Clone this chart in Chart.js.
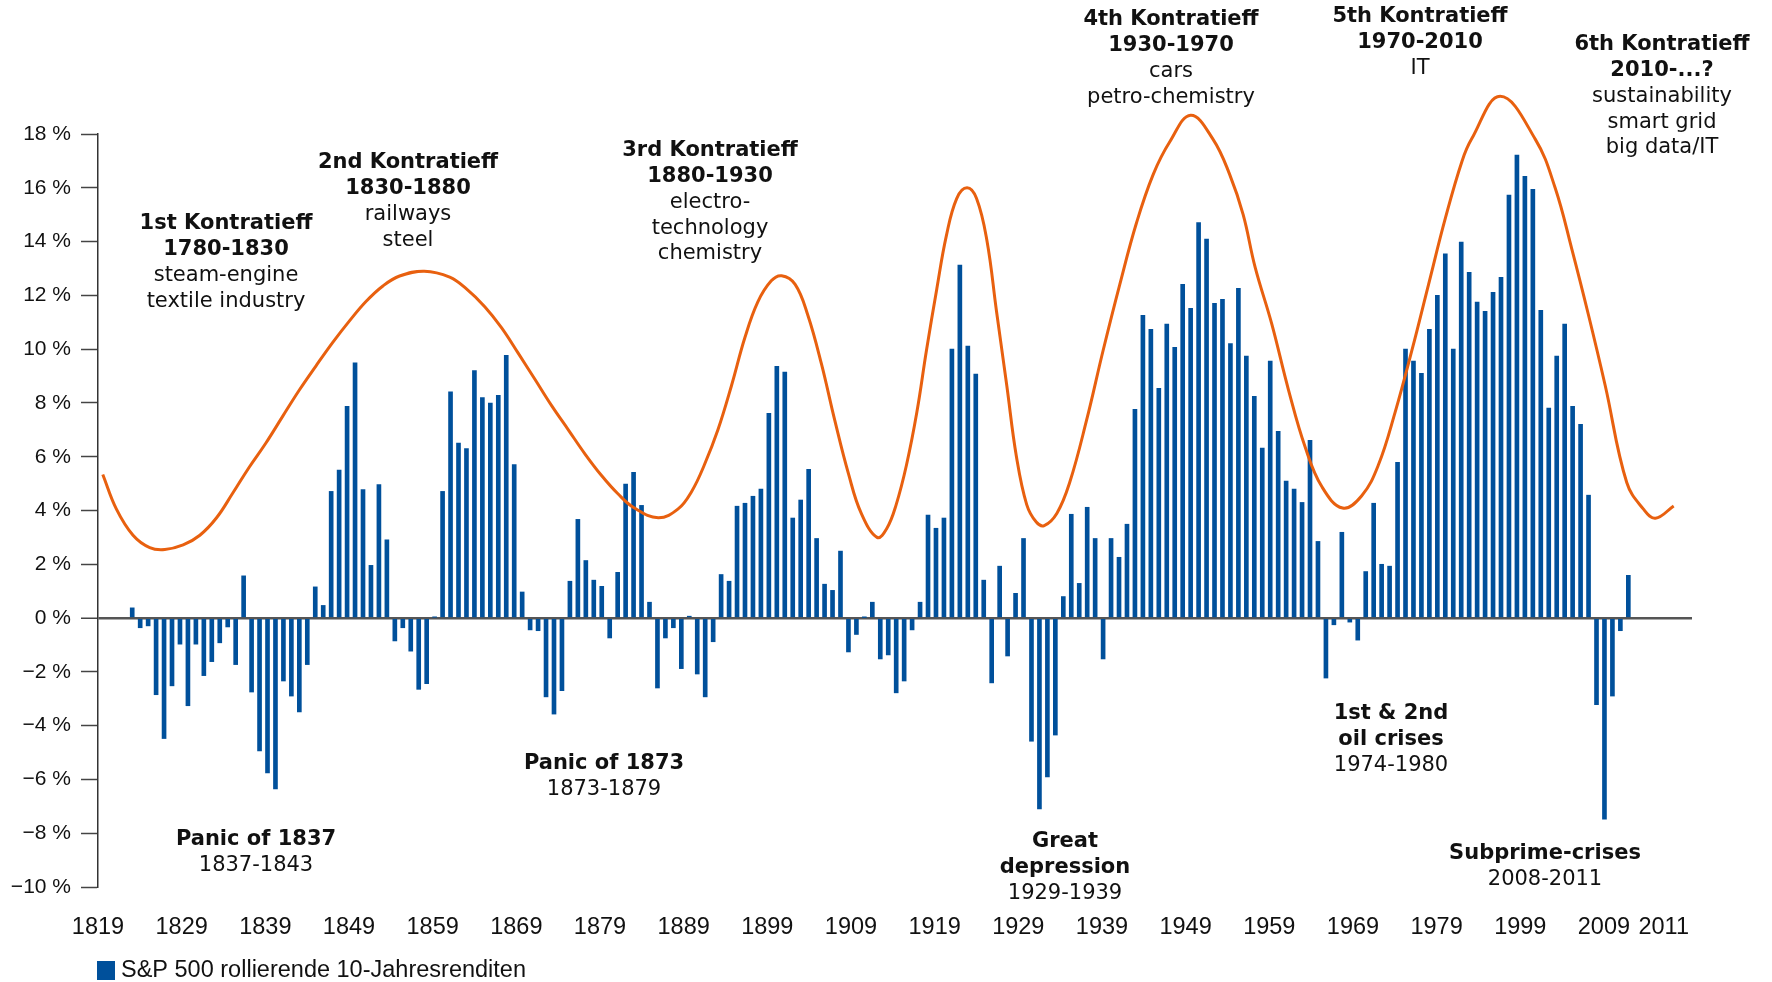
<!DOCTYPE html>
<html>
<head>
<meta charset="utf-8">
<script src="https://cdn.jsdelivr.net/npm/chart.js@4.4.0/dist/chart.umd.min.js"></script>
<style>
    html, body { margin: 0; padding: 0; background: #fff; }
</style>
</head>
<body>
<canvas id="kondratieffChart" width="1772" height="982"></canvas>
<script>
// S&P 500 rollierende 10-Jahresrenditen, ein Balken pro Jahr ab 1823
const ersterJahrgang = 1823;
const renditen = [
    0.38, -0.36, -0.29, -2.85, -4.48, -2.52, -0.97, -3.26, -0.97, -2.14,
    -1.62, -0.92, -0.33, -1.73, 1.57, -2.75, -4.94, -5.76, -6.35, -2.34,
    -2.90, -3.49, -1.73, 1.16, 0.47, 4.71, 5.50, 7.87, 9.49, 4.78,
    1.96, 4.96, 2.91, -0.85, -0.36, -1.23, -2.65, -2.44, 0.03, 4.71,
    8.41, 6.51, 6.30, 9.20, 8.20, 7.99, 8.28, 9.77, 5.71, 0.97,
    -0.44, -0.47, -2.93, -3.57, -2.70, 1.37, 3.67, 2.14, 1.41, 1.18,
    -0.74, 1.70, 4.98, 5.42, 4.19, 0.59, -2.60, -0.74, -0.36, -1.88,
    0.07, -2.08, -2.93, -0.88, 1.62, 1.37, 4.16, 4.27, 4.53, 4.80,
    7.61, 9.36, 9.15, 3.72, 4.39, 5.53, 2.96, 1.26, 1.03, 2.49,
    -1.26, -0.61, 0.02, 0.59, -1.52, -1.37, -2.78, -2.34, -0.44, 0.59,
    3.83, 3.34, 3.72, 10.0, 13.13, 10.11, 9.07, 1.41, -2.41, 1.93,
    -1.41, 0.92, 2.96, -4.58, -7.10, -5.91, -4.35, 0.80, 3.86, 1.29,
    4.12, 2.96, -1.52, 2.96, 2.26, 3.49, 7.76, 11.26, 10.74, 8.54,
    10.93, 10.07, 12.41, 11.52, 14.71, 14.09, 11.70, 11.85, 10.21, 12.26,
    9.74, 8.25, 6.32, 9.56, 6.94, 5.09, 4.80, 4.30, 6.61, 2.85,
    -2.23, -0.25, 3.19, -0.15, -0.82, 1.73, 4.27, 2.00, 1.93, 5.79,
    10.0, 9.56, 9.10, 10.74, 12.0, 13.54, 10.0, 13.98, 12.86, 11.75,
    11.41, 12.11, 12.67, 15.73, 17.22, 16.43, 15.94, 11.44, 7.81, 9.74,
    10.93, 7.87, 7.20, 4.57, -3.22, -7.48, -2.90, -0.47, 1.59
];

// Kondratieff-Welle (orange Linie)
const welleJahre = [
    1819.3, 1821.0, 1823.1, 1825.2, 1827.1, 1829.4, 1831.5, 1833.6, 1835.6, 1837.7,
    1839.8, 1841.9, 1844.0, 1846.1, 1848.2, 1850.3, 1852.4, 1854.5, 1856.6, 1859.7,
    1862.9, 1865.0, 1867.3, 1869.4, 1871.5, 1873.6, 1875.7, 1877.8, 1879.9, 1882.0,
    1884.0, 1886.1, 1889.1, 1891.6, 1893.3, 1894.9, 1896.6, 1898.3, 1900.0, 1901.6,
    1903.3, 1904.6, 1906.3, 1907.9, 1909.6, 1911.3, 1913.0, 1914.6, 1916.6, 1917.8,
    1919.0, 1920.3, 1921.6, 1922.8, 1924.1, 1925.3, 1926.6, 1927.9, 1929.1, 1930.4,
    1931.6, 1932.9, 1934.1, 1935.4, 1936.6, 1937.6, 1939.2, 1940.8, 1942.9, 1945.0,
    1947.1, 1949.2, 1951.3, 1953.4, 1956.0, 1958.8, 1960.9, 1962.6, 1964.1, 1966.2,
    1968.3, 1970.4, 1972.5, 1975.1, 1977.5, 1979.6, 1981.7, 1983.8, 1985.9, 1988.0,
    1990.1, 1991.3, 1994.9, 1999.3, 2001.8, 2003.9, 2006.0, 2008.1,
    2010.8, 2012.9, 2014.4, 2016.7
];
const welleWerte = [
    5.34, 4.06, 3.08, 2.62, 2.55, 2.72, 3.08, 3.73, 4.63, 5.61,
    6.51, 7.50, 8.48, 9.38, 10.25, 11.05, 11.78, 12.35, 12.72, 12.90,
    12.68, 12.24, 11.58, 10.80, 9.85, 8.88, 7.90, 7.00, 6.10, 5.29,
    4.63, 4.09, 3.73, 4.06, 4.71, 5.70, 7.00, 8.64, 10.44, 11.75,
    12.54, 12.73, 12.41, 11.26, 9.46, 7.33, 5.37, 3.90, 3.00, 3.32,
    4.22, 5.70, 7.66, 9.95, 12.24, 14.21, 15.60, 16.00, 15.60, 14.04,
    11.42, 8.64, 6.02, 4.22, 3.57, 3.44, 3.90, 5.04, 7.33, 9.95,
    12.41, 14.70, 16.50, 17.72, 18.70, 17.81, 16.50, 15.00, 13.05, 10.93,
    8.48, 6.35, 4.88, 4.09, 4.55, 5.70, 7.66, 9.95, 12.41, 14.86,
    16.99, 17.81, 19.40, 17.81, 16.00, 13.72, 11.26, 8.64,
    5.04, 4.05, 3.71, 4.17
];

// Beschriftung der x-Achse (wie im Original, 1989 fehlt)
const xTickLabels = ['1819', '1829', '1839', '1849', '1859', '1869', '1879', '1889', '1899', '1909',
    '1919', '1929', '1939', '1949', '1959', '1969', '1979', '1999', '2009', '2011'];

const serienName = 'S&P 500 rollierende 10-Jahresrenditen';

// Texte im Diagramm: [Text, fett?]
const notizen = [
    { x: 226, y: 224, zeilen: [['1st Kontratieff', true], ['1780-1830', true], ['steam-engine', false], ['textile industry', false]] },
    { x: 408, y: 163, zeilen: [['2nd Kontratieff', true], ['1830-1880', true], ['railways', false], ['steel', false]] },
    { x: 710, y: 151, zeilen: [['3rd Kontratieff', true], ['1880-1930', true], ['electro-', false], ['technology', false], ['chemistry', false]] },
    { x: 1171, y: 20, zeilen: [['4th Kontratieff', true], ['1930-1970', true], ['cars', false], ['petro-chemistry', false]] },
    { x: 1420, y: 17, zeilen: [['5th Kontratieff', true], ['1970-2010', true], ['IT', false]] },
    { x: 1662, y: 45, zeilen: [['6th Kontratieff', true], ['2010-...?', true], ['sustainability', false], ['smart grid', false], ['big data/IT', false]] },
    { x: 256, y: 840, zeilen: [['Panic of 1837', true], ['1837-1843', false]] },
    { x: 604, y: 764, zeilen: [['Panic of 1873', true], ['1873-1879', false]] },
    { x: 1065, y: 842, zeilen: [['Great', true], ['depression', true], ['1929-1939', false]] },
    { x: 1391, y: 714, zeilen: [['1st & 2nd', true], ['oil crises', true], ['1974-1980', false]] },
    { x: 1545, y: 854, zeilen: [['Subprime-crises', true], ['2008-2011', false]] }
];

const blau = '#00509b';
const orange = '#e8600f';
const schmal = '"Liberation Sans Narrow", "Liberation Sans", Arial, sans-serif';

// Texte und Legende selbst zeichnen
const beschriftungPlugin = {
    id: 'beschriftung',
    afterDraw(chart) {
        const ctx = chart.ctx;
        ctx.save();
        ctx.textAlign = 'center';
        ctx.textBaseline = 'middle';
        ctx.fillStyle = '#111';
        notizen.forEach(n => {
            n.zeilen.forEach(([text, fett], i) => {
                ctx.font = (fett ? 'bold ' : '') + '21px "DejaVu Sans", Verdana, sans-serif';
                ctx.fillText(text, n.x, n.y + i * 25.7);
            });
        });

        // Legende unten links
        ctx.fillStyle = blau;
        ctx.fillRect(97, 961, 18, 19);
        ctx.fillStyle = '#111';
        ctx.textAlign = 'left';
        ctx.font = '23.5px ' + schmal;
        ctx.fillText(serienName, 121, 971);
        ctx.restore();
    }
};

const ctx = document.getElementById('kondratieffChart').getContext('2d');

new Chart(ctx, {
    data: {
        datasets: [
            {
                type: 'line',
                label: 'Kontratieff',
                data: welleJahre.map((j, i) => ({ x: j, y: welleWerte[i] })),
                borderColor: orange,
                borderWidth: 3,
                pointRadius: 0,
                tension: 0.4,
                fill: false,
                clip: false,
                order: 0
            },
            {
                type: 'bar',
                label: serienName,
                data: renditen.map((v, i) => ({ x: ersterJahrgang + i, y: v })),
                backgroundColor: blau,
                barThickness: 4,
                grouped: false,
                order: 1
            }
        ]
    },
    options: {
        responsive: false,
        animation: false,
        layout: { padding: { top: 134, right: 80, bottom: 0, left: 0 } },
        plugins: {
            legend: { display: false },
            tooltip: { enabled: false }
        },
        scales: {
            x: {
                type: 'linear',
                min: 1818.7,
                max: 2019.0,
                offset: false,
                grid: { display: false, drawTicks: false },
                border: { display: false },
                afterBuildTicks: scale => {
                    // Beschriftung in gleichmäßigen Abständen wie im Original
                    const start = 1818.7, schritt = 10.513;
                    scale.ticks = xTickLabels.map((l, i) => ({
                        value: i < xTickLabels.length - 1 ? start + schritt * i : 2015.45
                    }));
                },
                afterFit: scale => { scale.height = 95; },
                ticks: {
                    autoSkip: false,
                    maxRotation: 0,
                    padding: 26,
                    color: '#111',
                    font: { family: schmal, size: 23.5 },
                    callback: (v, i) => xTickLabels[i]
                }
            },
            y: {
                min: -10,
                max: 18,
                afterFit: scale => { scale.width = 98; },
                ticks: {
                    stepSize: 2,
                    padding: 10,
                    color: '#111',
                    font: { family: schmal, size: 21 },
                    callback: v => (v < 0 ? '\u2212' : '') + Math.abs(v) + ' %'
                },
                grid: {
                    color: c => c.tick && c.tick.value === 0 ? '#555' : 'rgba(0,0,0,0)',
                    lineWidth: c => c.tick && c.tick.value === 0 ? 2.5 : 1,
                    tickColor: '#444',
                    tickWidth: 1.5,
                    tickLength: 17
                },
                border: { display: true, color: '#333', width: 1.5 }
            }
        }
    },
    plugins: [beschriftungPlugin]
});
</script>
</body>
</html>
